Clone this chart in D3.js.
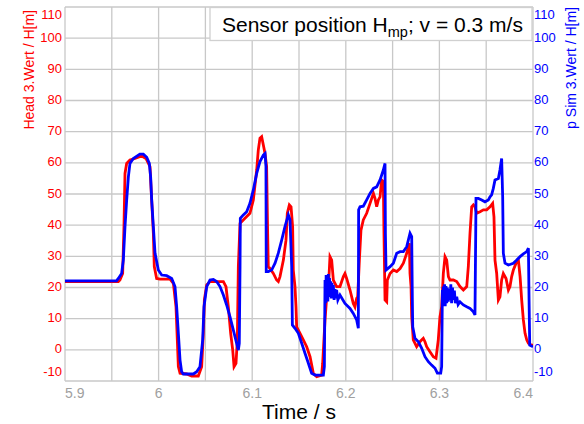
<!DOCTYPE html>
<html><head><meta charset="utf-8">
<script src="https://cdn.jsdelivr.net/npm/d3@7/dist/d3.min.js"></script>
<style>body{margin:0;background:#fff;}svg{display:block;font-family:"Liberation Sans",Arial,sans-serif;}</style>
</head><body><svg id="c" width="584" height="424"></svg>
<script>
const timeTicks = [5.9, 6.0, 6.1, 6.2, 6.3, 6.4];
const timeGrid = [5.9, 5.95, 6.0, 6.05, 6.1, 6.15, 6.2, 6.25, 6.3, 6.35, 6.4];
const valueTicks = [-10, 0, 10, 20, 30, 40, 50, 60, 70, 80, 90, 100, 110];
const titleMain = "Sensor position H";
const titleSub = "mp";
const titleEnd = "; v = 0.3 m/s";
const xTitle = "Time / s";
const leftTitle = "Head 3.Wert / H[m]";
const rightTitle = "p Sim 3.Wert / H[m]";

// Head 3.Wert (red): [time, value]
const headSeries = [
[5.9,21.9],[5.957,21.9],[5.9587,22.4],[5.9616,24.5],[5.963,39.5],[5.9641,56.6],[5.9659,59.8],[5.9694,60.9],
[5.9747,61.4],[5.9819,62.2],[5.9865,61.4],[5.9908,58.8],[5.9926,48.1],[5.9944,37.4],[5.9954,26.7],[5.9979,22.9],
[6.0015,22.7],[6.0122,22.7],[6.0158,21.3],[6.0186,13.8],[6.02,3.2],[6.0211,-5.4],[6.0229,-7.5],[6.03,-7.75],
[6.0353,-8.4],[6.0424,-8.4],[6.046,-5.4],[6.0478,5.3],[6.0489,16],[6.0514,20.8],[6.0549,21.9],[6.0692,21.9],
[6.072,20.3],[6.0745,13.8],[6.077,5.3],[6.0792,-0.1],[6.0806,-5.4],[6.0827,-4.3],[6.0841,3.2],[6.0852,26.7],
[6.087,40.6],[6.0923,42.2],[6.0976,43.8],[6.1012,48.1],[6.1048,57.7],[6.1065,64.1],[6.1083,67.9],[6.1101,68.4],
[6.1119,65.7],[6.1137,63],[6.1154,58.8],[6.1165,37.4],[6.1172,26.7],[6.119,26.1],[6.1226,24.5],[6.1261,22.4],
[6.1279,21.9],[6.1297,23.5],[6.1333,28.8],[6.1361,35.2],[6.1375,43.8],[6.1397,46.5],[6.1415,45.9],[6.1432,39.5],
[6.1439,25.6],[6.1457,20.3],[6.1468,13.8],[6.1475,7.4],[6.1511,5.3],[6.1546,3.2],[6.1582,1],[6.1618,-2.2],
[6.1653,-7.5],[6.1689,-8.6],[6.1742,-8.1],[6.1753,-4.3],[6.1778,9.6],[6.1796,17],[6.1813,19.2],[6.1831,29.9],
[6.1849,28.8],[6.1867,22.4],[6.1902,20.3],[6.1938,20.3],[6.1974,23.5],[6.1991,24.5],[6.2009,22.9],[6.2045,19.2],
[6.208,14.9],[6.2098,13.8],[6.2116,16.5],[6.2127,17],[6.2145,28.8],[6.2162,38.4],[6.2187,41.7],[6.2223,43.8],
[6.2259,47],[6.2295,50.2],[6.2312,48.6],[6.233,45.9],[6.2348,48.1],[6.2366,49.1],[6.2383,54.5],[6.2401,54],
[6.2408,37.4],[6.2419,16],[6.2437,15.4],[6.2444,22.4],[6.2473,24.5],[6.2508,25.6],[6.2544,25.1],[6.258,26.1],
[6.2615,27.8],[6.2651,31],[6.2668,33.1],[6.2679,34.2],[6.2686,24.5],[6.2697,20.3],[6.2704,10.6],[6.2721,3.2],
[6.2757,1],[6.2792,2.6],[6.2828,3.7],[6.2846,2.6],[6.2864,1],[6.2899,-0.6],[6.2935,-2.2],[6.2964,-2.7],
[6.2988,3.2],[6.3006,10.6],[6.3024,13.8],[6.3042,24.5],[6.306,29.9],[6.3078,28.8],[6.3096,23.5],[6.3113,22.4],
[6.3149,22.4],[6.3185,21.9],[6.322,20.3],[6.3256,19.2],[6.3292,20.3],[6.3309,26.7],[6.3327,37.4],[6.3345,45.9],
[6.3363,46.5],[6.338,45.9],[6.3398,43.8],[6.3434,44.3],[6.347,44.9],[6.3505,44.9],[6.3541,45.9],[6.3569,47],
[6.3583,42.7],[6.3594,28.8],[6.3612,24.5],[6.363,16],[6.3647,17],[6.3665,22.4],[6.3683,24.5],[6.3712,22.9],
[6.3737,19.2],[6.3754,20.3],[6.3772,23.5],[6.379,25.6],[6.3826,28.3],[6.3844,28.8],[6.3862,23.5],[6.3879,16],
[6.3897,9.6],[6.3915,5.3],[6.3933,3.2],[6.3951,2.1],[6.3985,1.5],[6.4,1.5]
];

// p Sim 3.Wert (blue): [time, value]
const simSeries = [
[5.9,22.1],[5.955,22.1],[5.957,22.9],[5.9605,24.5],[5.9623,28.8],[5.9641,39.5],[5.9659,48.1],[5.9677,55.5],
[5.9694,59.8],[5.973,61.4],[5.98,62.8],[5.9837,62.8],[5.9873,61.8],[5.9901,59.8],[5.9915,55.5],[5.9926,48.1],
[5.9944,39.5],[5.9962,31],[5.9997,25.6],[6.0033,24],[6.0086,23.8],[6.014,22.9],[6.0175,20.3],[6.0193,13.8],
[6.0211,5.3],[6.0229,-3.3],[6.0246,-7],[6.0264,-7.75],[6.0371,-7.75],[6.0407,-7],[6.0442,-5.4],[6.0471,3.2],
[6.0485,13.8],[6.0514,20.3],[6.0549,22.4],[6.0585,22.6],[6.062,21.9],[6.0656,20.3],[6.0692,17.6],[6.0727,14.4],
[6.0763,10.6],[6.0798,6.4],[6.0834,2.1],[6.0852,-0.1],[6.0862,2.1],[6.087,26.7],[6.0873,42.2],[6.0905,43.3],
[6.0941,44.3],[6.0976,47],[6.1012,51.3],[6.1048,56.6],[6.1083,60.4],[6.1119,62.5],[6.1137,63],[6.1147,58.8],
[6.115,25.1],[6.1172,25.1],[6.1208,25.6],[6.1244,27.8],[6.1279,31],[6.1315,35.2],[6.135,39.5],[6.1386,43.3],
[6.1404,41.7],[6.1422,26.7],[6.1429,8],[6.1457,6.9],[6.1493,5.3],[6.1529,2.1],[6.1564,-1.1],[6.16,-4.3],
[6.1635,-7.5],[6.1671,-8.1],[6.176,-8.1],[6.1771,-5.4],[6.1778,22.4],[6.1785,15],[6.179,24],[6.1796,16],
[6.1802,23.5],[6.1808,15.5],[6.1813,24.3],[6.182,17],[6.1826,23],[6.1831,17],[6.1838,22],[6.1845,16.5],
[6.1852,21.5],[6.186,17],[6.1867,20.8],[6.1875,16],[6.1885,19.5],[6.1895,16.5],[6.1902,19.2],[6.1915,16],
[6.1938,17.6],[6.1991,14.9],[6.2045,13.3],[6.208,11.7],[6.2116,9.6],[6.2134,6.9],[6.2137,44.9],[6.2152,45.9],
[6.2187,46.1],[6.2223,48.1],[6.2259,50.2],[6.2295,51.8],[6.233,52.3],[6.2366,54.5],[6.2401,57.7],[6.2419,59.8],
[6.2423,37.4],[6.243,25.6],[6.2473,26.7],[6.2508,27.8],[6.2544,31],[6.258,31.5],[6.2615,31.5],[6.2651,33.1],
[6.2668,35.2],[6.2686,37.4],[6.2704,36.3],[6.2711,16],[6.2715,7.4],[6.2739,3.7],[6.2775,2.6],[6.2811,0.5],
[6.2846,-2.2],[6.2882,-3.8],[6.2917,-4.9],[6.2953,-5.9],[6.2978,-7.5],[6.3014,-7.5],[6.3024,-5.4],[6.3032,19.2],
[6.3036,14],[6.3042,20.3],[6.3048,14.5],[6.3055,21],[6.3062,14],[6.307,20.5],[6.3078,15],[6.3085,20],
[6.3095,15.5],[6.3105,19.5],[6.3113,16],[6.3122,21],[6.313,15],[6.314,20],[6.3149,16],[6.316,19],
[6.317,15],[6.3185,17],[6.32,14.5],[6.322,15.4],[6.3256,14.4],[6.3292,13.8],[6.3327,13.3],[6.3363,12.2],
[6.338,11.2],[6.3388,37.4],[6.3391,48.6],[6.3416,48.6],[6.3452,48.1],[6.3487,47.5],[6.3523,48.1],[6.3541,49.1],
[6.3558,49.7],[6.3576,51.8],[6.3594,54.5],[6.363,55],[6.3647,57.7],[6.3665,61.4],[6.3676,49.1],[6.3683,31],
[6.3701,27.8],[6.3737,27.2],[6.379,27.8],[6.3826,28.8],[6.3862,29.9],[6.3897,30.8],[6.3933,31.5],[6.3951,32.6],
[6.3958,16],[6.3965,1.5],[6.4,1]
];

const W = 584, H = 424;
const m = {left: 65, right: 51, top: 7, bottom: 43};
const svg = d3.select("#c");
const x = d3.scaleLinear().domain([5.9, 6.4]).range([m.left, W - m.right]);
const y = d3.scaleLinear().domain([-10, 110]).range([H - m.bottom, m.top]);

const gridColor = "#c8c8c8";
svg.append("g").selectAll("line").data(timeGrid).join("line")
  .attr("x1", d => x(d)).attr("x2", d => x(d))
  .attr("y1", y(110)).attr("y2", y(-10))
  .attr("stroke", gridColor).attr("stroke-width", 1.3);
svg.append("g").selectAll("line").data(valueTicks).join("line")
  .attr("x1", x(5.9)).attr("x2", x(6.4))
  .attr("y1", d => y(d)).attr("y2", d => y(d))
  .attr("stroke", gridColor).attr("stroke-width", 1.3);

svg.append("clipPath").attr("id", "clip").append("rect")
  .attr("x", x(5.9)).attr("y", y(110)).attr("width", x(6.4) - x(5.9)).attr("height", y(-10) - y(110));

const line = d3.line().x(d => x(d[0])).y(d => y(d[1]));
const lg = svg.append("g").attr("clip-path", "url(#clip)");
lg.append("path").datum(headSeries).attr("d", line)
  .attr("fill", "none").attr("stroke", "#ff0000").attr("stroke-width", 2.8).attr("stroke-linejoin", "miter");
lg.append("path").datum(simSeries).attr("d", line)
  .attr("fill", "none").attr("stroke", "#0000ff").attr("stroke-width", 2.8).attr("stroke-linejoin", "miter");

const clampY = v => Math.min(Math.max(y(v), 15), 372);
svg.append("g").selectAll("text").data(valueTicks).join("text")
  .attr("x", m.left - 3).attr("y", d => clampY(d) - 1)
  .attr("text-anchor", "end").attr("dominant-baseline", "central")
  .attr("font-size", 13).attr("fill", "#ff0000").text(d => d);
svg.append("g").selectAll("text").data(valueTicks).join("text")
  .attr("x", W - m.right + 1).attr("y", d => clampY(d) - 1)
  .attr("text-anchor", "start").attr("dominant-baseline", "central")
  .attr("font-size", 13).attr("fill", "#0000ff").text(d => d);
svg.append("g").selectAll("text").data(timeTicks).join("text")
  .attr("x", d => x(d))
  .attr("y", 398)
  .attr("text-anchor", (d, i) => i === 0 ? "start" : (i === timeTicks.length - 1 ? "end" : "middle"))
  .attr("font-size", 14).attr("fill", "#a0a0a0").text(d => d3.format("~g")(d));

svg.append("text").attr("x", 299).attr("y", 419)
  .attr("text-anchor", "middle").attr("font-size", 21).attr("fill", "#000").text(xTitle);
svg.append("text").attr("transform", `translate(34,10) rotate(-90)`)
  .attr("text-anchor", "end").attr("font-size", 14).attr("fill", "#ff0000").text(leftTitle);
svg.append("text").attr("transform", `translate(576,7) rotate(-90)`)
  .attr("text-anchor", "end").attr("font-size", 14).attr("fill", "#0000ff").text(rightTitle);

svg.append("rect").attr("x", 210).attr("y", 7.5).attr("width", 322).attr("height", 33)
  .attr("fill", "#fff").attr("stroke", "#d0d0d0").attr("stroke-width", 1.3);
const tt = svg.append("text").attr("x", 222).attr("y", 32).attr("font-size", 21).attr("fill", "#000");
tt.append("tspan").text(titleMain);
tt.append("tspan").attr("font-size", 14.5).attr("dy", 5).text(titleSub);
tt.append("tspan").attr("dy", -5).text(titleEnd);
</script></body></html>
